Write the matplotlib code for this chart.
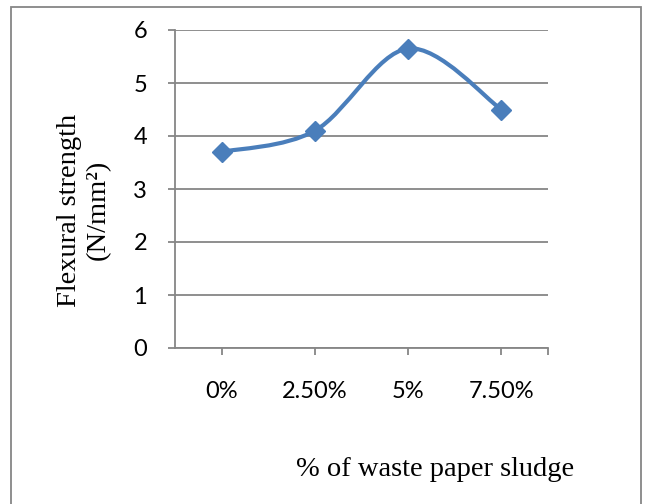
import numpy as np
import matplotlib
matplotlib.use("Agg")
import matplotlib.pyplot as plt
from matplotlib.path import Path
from matplotlib.patches import PathPatch, Rectangle

# Chart data
categories = ["0%", "2.50%", "5%", "7.50%"]
strength = [3.7, 4.1, 5.65, 4.5]

blue = "#4a7ebb"
grey = "#868686"

fig = plt.figure(figsize=(6.54, 5.04), dpi=100)
ax = fig.add_axes([175 / 654, 1 - 348 / 504, (548 - 175) / 654, (348 - 30) / 504])

x = np.arange(len(categories), dtype=float)
y = np.array(strength, dtype=float)

# Excel-style smoothed line (Catmull-Rom as cubic Bezier)
px = np.concatenate([[x[0]], x, [x[-1]]])
py = np.concatenate([[y[0]], y, [y[-1]]])
verts = [(x[0], y[0])]
codes = [Path.MOVETO]
for i in range(1, len(px) - 2):
    c1 = (px[i] + (px[i + 1] - px[i - 1]) / 6, py[i] + (py[i + 1] - py[i - 1]) / 6)
    c2 = (px[i + 1] - (px[i + 2] - px[i]) / 6, py[i + 1] - (py[i + 2] - py[i]) / 6)
    verts += [c1, c2, (px[i + 1], py[i + 1])]
    codes += [Path.CURVE4] * 3
ax.add_patch(PathPatch(Path(verts, codes), fill=False, edgecolor=blue, lw=3, zorder=3))
ax.plot(x, y, linestyle="none", marker="D", markersize=10, color=blue, zorder=4)

ax.set_xlim(-0.5, 3.5)
ax.set_ylim(0, 6)
ax.set_yticks(range(0, 7))
ax.set_xticks(x)
ax.set_xticks([3.5], minor=True)
ax.set_xticklabels(categories, fontfamily="Lato", fontsize=17)
for lab in ax.get_yticklabels():
    lab.set_fontfamily("Lato")
    lab.set_fontsize(17)

ax.grid(axis="y", color=grey, lw=1.3)
ax.set_axisbelow(True)
for s in ["top", "right"]:
    ax.spines[s].set_visible(False)
for s in ["left", "bottom"]:
    ax.spines[s].set_color(grey)
    ax.spines[s].set_linewidth(1.3)
ax.tick_params(axis="y", which="major", length=5, width=1.3, color=grey, pad=15)
ax.tick_params(axis="x", which="both", length=5, width=1.3, color=grey, pad=19)

fig.text(84 / 654, 1 - 210 / 504, "Flexural strength\n(N/mm²)", rotation=90,
         ha="center", va="center", multialignment="center",
         fontfamily="Liberation Serif", fontsize=20.5, linespacing=1.2)
fig.text(435 / 654, 1 - 470 / 504, "% of waste paper sludge", ha="center", va="center",
         fontfamily="Liberation Serif", fontsize=20.5)

fig.patches.append(Rectangle((11 / 654, -0.01), (641 - 11) / 654, 1 - 7 / 504 + 0.01,
                             transform=fig.transFigure, fill=False, edgecolor=grey, lw=1.3))

fig.savefig("out.png", dpi=100)
